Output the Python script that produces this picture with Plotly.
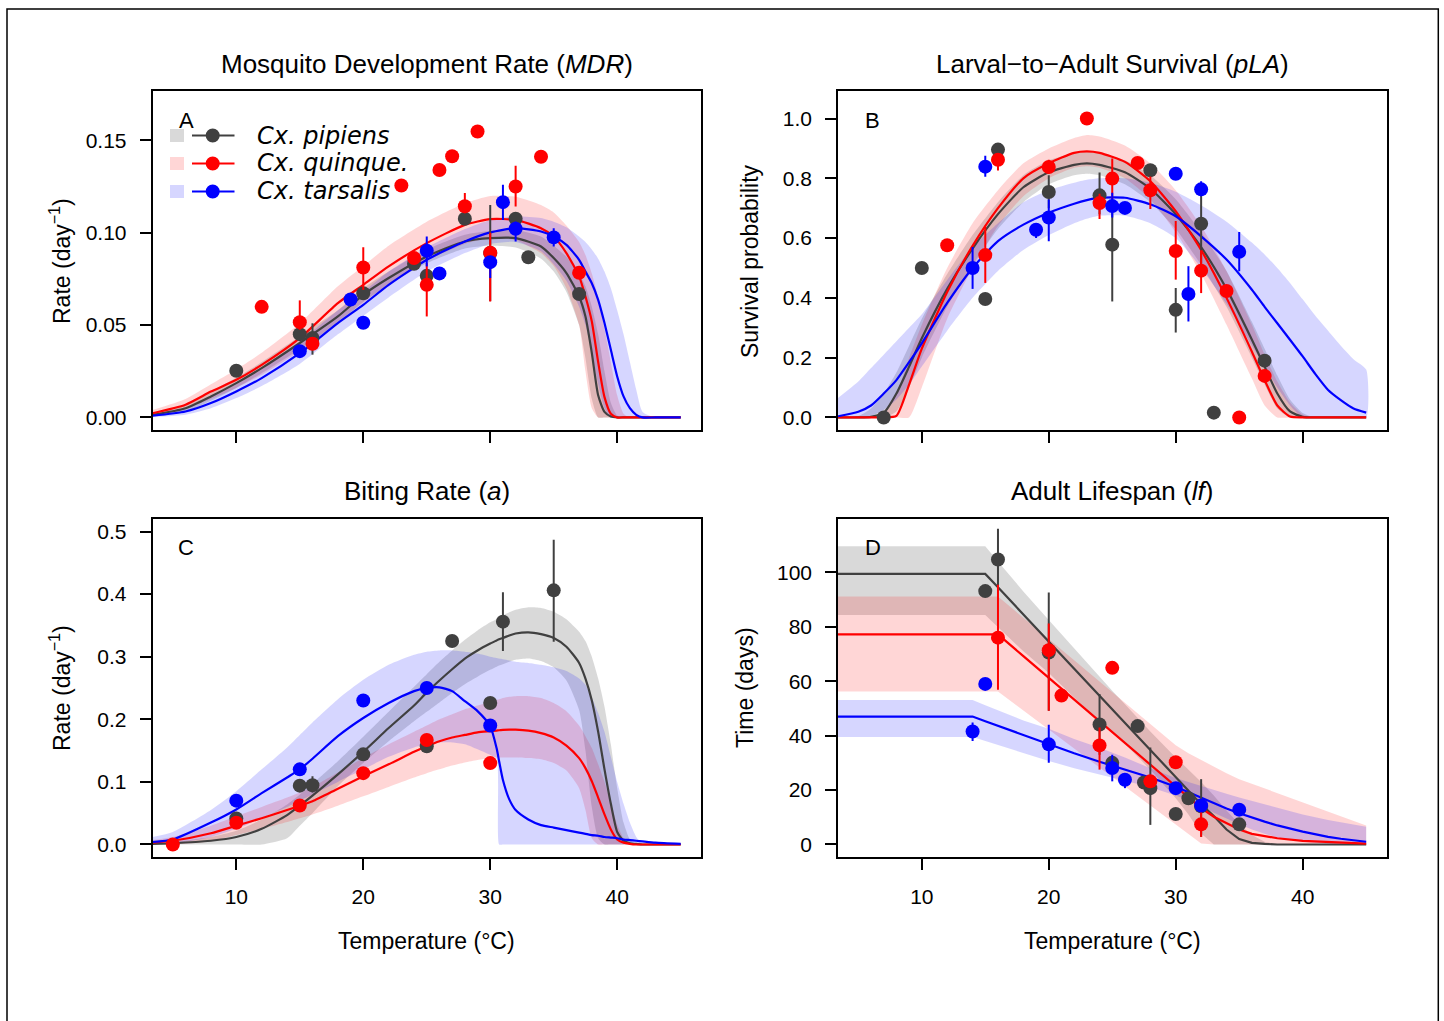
import plotly.graph_objects as go

W, H = 1444, 1021

# ---------------- Panel A: mosquito development rate (MDR) ----------------
A_T = [3.4, 6, 8, 10, 12, 15, 18, 20, 22, 25, 28, 30, 32, 34, 35, 36, 37, 37.5, 38, 38.5,
       39, 39.5, 40, 40.5, 41, 41.5, 42, 43, 45]
A_pip_mean = [0.0014, 0.005, 0.0114, 0.0186, 0.0267, 0.0403, 0.0547, 0.0664, 0.0755, 0.0872,
              0.0953, 0.0971, 0.0971, 0.0926, 0.0863, 0.0782, 0.0655, 0.0547, 0.035, 0.012,
              0.003, 0.0005, 0, 0, 0, 0, 0, 0, 0]
A_pip_lo = [0.0005, 0.003, 0.009, 0.016, 0.024, 0.037, 0.051, 0.0625, 0.072, 0.0835,
            0.0915, 0.093, 0.092, 0.086, 0.079, 0.068, 0.05, 0.032, 0.01, 0,
            0, 0, 0, 0, 0, 0, 0, 0, 0]
A_pip_hi = [0.0025, 0.007, 0.014, 0.0215, 0.03, 0.044, 0.058, 0.07, 0.079, 0.091,
            0.099, 0.101, 0.1015, 0.098, 0.093, 0.087, 0.078, 0.071, 0.06, 0.045,
            0.025, 0.008, 0.001, 0, 0, 0, 0, 0, 0]
A_qui_mean = [0.0023, 0.0069, 0.014, 0.0204, 0.0285, 0.043, 0.0619, 0.0718, 0.0818, 0.0944,
              0.1043, 0.1074, 0.107, 0.1025, 0.098, 0.089, 0.0764, 0.0655, 0.052, 0.03,
              0.011, 0.002, 0, 0, 0, 0, 0, 0, 0]
A_qui_lo = [0.001, 0.0045, 0.01, 0.016, 0.023, 0.036, 0.052, 0.062, 0.072, 0.085,
            0.094, 0.097, 0.096, 0.089, 0.082, 0.07, 0.05, 0.025, 0.005, 0,
            0, 0, 0, 0, 0, 0, 0, 0, 0]
A_qui_hi = [0.004, 0.01, 0.018, 0.026, 0.035, 0.051, 0.071, 0.082, 0.093, 0.106,
            0.116, 0.12, 0.1195, 0.115, 0.111, 0.104, 0.095, 0.088, 0.078, 0.065,
            0.048, 0.03, 0.012, 0.002, 0, 0, 0, 0, 0]
A_tar_mean = [0.0009, 0.0032, 0.0078, 0.0141, 0.0213, 0.0348, 0.0511, 0.061, 0.0718, 0.0854,
              0.0953, 0.1002, 0.1025, 0.1007, 0.098, 0.0935, 0.0854, 0.079, 0.0727, 0.0637,
              0.0511, 0.0366, 0.0222, 0.0114, 0.005, 0.0014, 0, 0, 0]
A_tar_lo = [0.0002, 0.0015, 0.005, 0.0105, 0.017, 0.029, 0.045, 0.055, 0.065, 0.079,
            0.089, 0.094, 0.095, 0.09, 0.083, 0.074, 0.06, 0.05, 0.035, 0.018,
            0.005, 0, 0, 0, 0, 0, 0, 0, 0]
A_tar_hi = [0.002, 0.005, 0.011, 0.018, 0.026, 0.041, 0.058, 0.068, 0.079, 0.092,
            0.102, 0.107, 0.109, 0.108, 0.106, 0.103, 0.098, 0.095, 0.091, 0.086,
            0.079, 0.07, 0.058, 0.045, 0.03, 0.015, 0.003, 0, 0]

A_pip_x = [10, 15, 16, 20, 24, 25, 28, 30, 32, 33, 37]
A_pip_y = [0.0253, 0.0451, 0.043, 0.0673, 0.0832, 0.0767, 0.1076, 0.089, 0.1076, 0.0868, 0.0668]
A_pip_elo = [None, None, 0.034, None, None, None, None, 0.063, None, None, None]
A_pip_ehi = [None, None, 0.051, None, None, None, None, 0.115, None, None, None]
A_qui_x = [12, 15, 16, 20, 23, 24, 25, 26, 27, 28, 29, 30, 32, 34, 37]
A_qui_y = [0.0599, 0.0516, 0.0399, 0.0812, 0.1256, 0.0863, 0.0718, 0.134, 0.1415, 0.1144,
           0.1549, 0.0892, 0.1251, 0.1412, 0.0783]
A_qui_elo = [None, 0.0475, None, 0.0691, None, None, 0.0547, None, None, 0.1106,
             None, 0.0628, 0.1143, None, None]
A_qui_ehi = [None, 0.0634, None, 0.0922, None, None, 0.0836, None, None, 0.1215,
             None, 0.1, 0.1363, None, None]
A_tar_x = [15, 19, 20, 25, 26, 30, 31, 32, 35]
A_tar_y = [0.0359, 0.0639, 0.0513, 0.0903, 0.078, 0.0841, 0.1166, 0.1022, 0.0975]
A_tar_elo = [None, None, None, 0.0818, None, 0.0755, 0.107, 0.0953, 0.0926]
A_tar_ehi = [None, None, None, 0.098, None, 0.0872, 0.126, 0.1061, 0.1025]

# ---------------- Panel B: larval-to-adult survival (pLA) ----------------
B_T = [3.4, 5, 6, 7, 8, 9, 10, 12, 14, 16, 18, 20, 22, 23, 24, 26, 28, 30, 32, 34,
       36, 37, 38, 39, 40, 41, 42, 43, 44, 45]
B_pip_mean = [0, 0, 0.002, 0.015, 0.08, 0.17, 0.265, 0.43, 0.565, 0.68, 0.77, 0.82, 0.845, 0.85,
              0.845, 0.82, 0.765, 0.68, 0.57, 0.43, 0.26, 0.17, 0.08, 0.02, 0.002, 0, 0, 0, 0, 0]
B_pip_lo = [0, 0, 0, 0, 0.02, 0.1, 0.2, 0.37, 0.51, 0.63, 0.72, 0.78, 0.81, 0.815,
            0.81, 0.78, 0.72, 0.63, 0.51, 0.37, 0.2, 0.11, 0.03, 0, 0, 0, 0, 0, 0, 0]
B_pip_hi = [0, 0.005, 0.03, 0.08, 0.15, 0.24, 0.33, 0.48, 0.61, 0.72, 0.81, 0.86, 0.885, 0.89,
            0.885, 0.86, 0.81, 0.73, 0.62, 0.49, 0.32, 0.23, 0.14, 0.06, 0.015, 0, 0, 0, 0, 0]
B_qui_mean = [0, 0, 0, 0, 0.005, 0.11, 0.23, 0.42, 0.574, 0.7, 0.8, 0.85, 0.885, 0.89,
              0.885, 0.855, 0.79, 0.69, 0.56, 0.4, 0.22, 0.125, 0.04, 0.003, 0, 0, 0, 0, 0, 0]
B_qui_lo = [0, 0, 0, 0, 0, 0, 0.1, 0.33, 0.5, 0.64, 0.74, 0.8, 0.835, 0.84,
            0.835, 0.8, 0.73, 0.62, 0.48, 0.31, 0.13, 0.04, 0, 0, 0, 0, 0, 0, 0, 0]
B_qui_hi = [0, 0, 0, 0.02, 0.08, 0.2, 0.31, 0.5, 0.65, 0.76, 0.85, 0.9, 0.935, 0.945,
            0.94, 0.91, 0.85, 0.76, 0.64, 0.49, 0.31, 0.21, 0.12, 0.05, 0.01, 0, 0, 0, 0, 0]
B_tar_mean = [0.004, 0.019, 0.04, 0.08, 0.125, 0.185, 0.248, 0.383, 0.5, 0.59, 0.645, 0.685,
              0.715, 0.727, 0.735, 0.735, 0.713, 0.673, 0.606, 0.528, 0.427, 0.37, 0.315,
              0.26, 0.204, 0.145, 0.092, 0.058, 0.03, 0.016]
B_tar_lo = [0, 0, 0.005, 0.025, 0.06, 0.11, 0.17, 0.29, 0.4, 0.49, 0.56, 0.61, 0.65, 0.665,
            0.675, 0.675, 0.65, 0.6, 0.5, 0.38, 0.24, 0.17, 0.1, 0.04, 0, 0, 0, 0, 0, 0]
B_tar_hi = [0.065, 0.12, 0.165, 0.21, 0.255, 0.3, 0.345, 0.46, 0.57, 0.65, 0.72, 0.76, 0.785,
            0.795, 0.8, 0.8, 0.785, 0.755, 0.71, 0.655, 0.585, 0.545, 0.5, 0.45, 0.395,
            0.34, 0.29, 0.24, 0.195, 0.16]

B_pip_x = [7, 10, 15, 16, 20, 24, 25, 28, 30, 32, 33, 37]
B_pip_y = [0.0, 0.5, 0.396, 0.896, 0.754, 0.743, 0.578, 0.827, 0.36, 0.648, 0.016, 0.19]
B_pip_elo = [None, None, None, None, 0.70, 0.68, 0.388, None, 0.284, 0.49, None, None]
B_pip_ehi = [None, None, None, None, 0.81, 0.819, 0.70, None, 0.433, 0.78, None, None]
B_qui_x = [12, 15, 16, 20, 23, 24, 25, 27, 28, 30, 32, 34, 35, 37]
B_qui_y = [0.576, 0.543, 0.862, 0.838, 1.0, 0.717, 0.799, 0.851, 0.76, 0.557, 0.491, 0.423,
           0.0, 0.139]
B_qui_elo = [None, 0.45, 0.826, 0.817, None, 0.664, 0.729, None, 0.697, 0.461, 0.416, None,
             None, None]
B_qui_ehi = [None, 0.638, 0.882, 0.862, None, 0.748, 0.866, None, 0.806, 0.657, 0.559, None,
             None, None]
B_tar_x = [14, 15, 19, 20, 25, 26, 30, 31, 32, 35]
B_tar_y = [0.5, 0.839, 0.628, 0.669, 0.707, 0.701, 0.815, 0.413, 0.763, 0.554]
B_tar_elo = [0.43, 0.805, 0.6, 0.589, 0.669, None, None, 0.321, 0.74, 0.489]
B_tar_ehi = [0.57, 0.875, 0.65, 0.729, 0.752, None, None, 0.506, 0.79, 0.62]

# ---------------- Panel C: biting rate (a) ----------------
C_T = [3.4, 5, 8, 10, 12, 14, 15, 16, 18, 20, 22, 24, 25, 26, 27, 28, 29, 30, 30.5, 30.7,
       31, 31.5, 32, 33, 34, 35, 36, 37, 37.5, 38, 38.5, 39, 39.5, 40, 40.5, 41, 41.5, 42,
       43, 45]
C_pip_mean = [0.001, 0.002, 0.006, 0.012, 0.025, 0.047, 0.062, 0.078, 0.112, 0.148,
              0.186, 0.222, 0.243, 0.262, 0.28, 0.297, 0.31, 0.321, 0.326, 0.328,
              0.33, 0.334, 0.337, 0.339, 0.336, 0.33, 0.316, 0.29, 0.265, 0.23,
              0.18, 0.12, 0.065, 0.02, 0.006, 0.002, 0.001, 0, 0, 0]
C_pip_lo = [0, 0, 0, 0, 0, 0.01, 0.03, 0.05, 0.093, 0.13,
            0.165, 0.197, 0.212, 0.227, 0.242, 0.256, 0.268, 0.279, 0.284, 0.286,
            0.288, 0.292, 0.295, 0.297, 0.293, 0.283, 0.262, 0.215, 0.15, 0.06,
            0.01, 0, 0, 0, 0, 0, 0, 0, 0, 0]
C_pip_hi = [0.002, 0.004, 0.012, 0.022, 0.04, 0.064, 0.08, 0.097, 0.133, 0.172,
            0.212, 0.252, 0.272, 0.292, 0.31, 0.327, 0.342, 0.355, 0.36, 0.362,
            0.366, 0.371, 0.375, 0.379, 0.378, 0.372, 0.36, 0.34, 0.325, 0.3,
            0.265, 0.22, 0.16, 0.09, 0.035, 0.008, 0, 0, 0, 0]
C_qui_mean = [0.003, 0.006, 0.018, 0.03, 0.042, 0.055, 0.062, 0.069, 0.089, 0.109,
              0.128, 0.148, 0.157, 0.165, 0.171, 0.175, 0.179, 0.181, 0.182, 0.1825,
              0.183, 0.1835, 0.1835, 0.182, 0.178, 0.171, 0.158, 0.138, 0.122, 0.101,
              0.075, 0.048, 0.024, 0.008, 0.003, 0.001, 0, 0, 0, 0]
C_qui_lo = [0, 0, 0.005, 0.015, 0.025, 0.036, 0.042, 0.048, 0.062, 0.077,
            0.092, 0.107, 0.114, 0.12, 0.126, 0.131, 0.135, 0.138, 0.139, 0.139,
            0.139, 0.139, 0.139, 0.138, 0.136, 0.13, 0.118, 0.09, 0.055, 0.01,
            0, 0, 0, 0, 0, 0, 0, 0, 0, 0]
C_qui_hi = [0.007, 0.012, 0.03, 0.045, 0.06, 0.075, 0.083, 0.092, 0.115, 0.138,
            0.16, 0.18, 0.19, 0.2, 0.208, 0.216, 0.222, 0.228, 0.231, 0.232,
            0.234, 0.236, 0.237, 0.237, 0.234, 0.226, 0.213, 0.19, 0.173, 0.154,
            0.128, 0.1, 0.067, 0.032, 0.01, 0.002, 0, 0, 0, 0]
C_tar_mean = [0.004, 0.008, 0.035, 0.056, 0.082, 0.107, 0.12, 0.137, 0.173, 0.202,
              0.226, 0.245, 0.25, 0.251, 0.245, 0.229, 0.213, 0.189, 0.154, 0.133,
              0.103, 0.072, 0.055, 0.04, 0.031, 0.027, 0.023, 0.019, 0.017, 0.015,
              0.014, 0.012, 0.011, 0.01, 0.008, 0.007, 0.006, 0.005, 0.003, 0.001]
C_tar_lo = [0, 0.001, 0.012, 0.025, 0.042, 0.06, 0.07, 0.08, 0.1, 0.12,
            0.14, 0.155, 0.16, 0.163, 0.163, 0.16, 0.152, 0.143, 0.137, 0,
            0, 0, 0, 0, 0, 0, 0, 0, 0, 0,
            0, 0, 0, 0, 0, 0, 0, 0, 0, 0]
C_tar_hi = [0.012, 0.02, 0.055, 0.085, 0.12, 0.155, 0.175, 0.195, 0.232, 0.263,
            0.287, 0.303, 0.308, 0.31, 0.31, 0.308, 0.305, 0.3, 0.298, 0.297,
            0.296, 0.294, 0.292, 0.29, 0.287, 0.283, 0.277, 0.265, 0.255, 0.235,
            0.21, 0.18, 0.14, 0.1, 0.065, 0.035, 0.012, 0, 0, 0]

C_pip_x = [10, 15, 16, 20, 25, 27, 30, 31, 35]
C_pip_y = [0.0415, 0.094, 0.0947, 0.144, 0.157, 0.325, 0.226, 0.356, 0.406]
C_pip_elo = [None, None, 0.083, None, None, None, None, 0.309, 0.324]
C_pip_ehi = [None, None, 0.109, None, None, None, None, 0.403, 0.487]
C_qui_x = [5, 10, 15, 20, 25, 30]
C_qui_y = [0.0, 0.0346, 0.0622, 0.114, 0.167, 0.13]
C_qui_elo = [None] * 6
C_qui_ehi = [None] * 6
C_tar_x = [10, 15, 20, 25, 30]
C_tar_y = [0.07, 0.12, 0.23, 0.25, 0.19]
C_tar_elo = [None] * 5
C_tar_ehi = [None] * 5

# ---------------- Panel D: adult lifespan (lf) ----------------
D_T = [3.4, 5, 8, 10, 12, 13, 14, 15, 16, 18, 20, 22, 24, 25, 26, 28, 30, 31, 32, 33,
       34, 35, 36, 37, 38, 40, 42, 43, 45]
D_pip_mean = [99.4, 99.4, 99.4, 99.4, 99.4, 99.4, 99.4, 99.4, 94.5, 84.5,
              74.5, 64.5, 54.6, 49.6, 44.6, 34.7, 24.7, 19.7, 14.8, 10.5,
              5.5, 2, 0.6, 0.2, 0, 0, 0, 0, 0]
D_pip_lo = [84.3, 84.3, 84.3, 84.3, 84.3, 84.3, 84.3, 84.3, 80, 71,
            63, 54, 45, 41, 37, 27.5, 17, 11, 4, 0,
            0, 0, 0, 0, 0, 0, 0, 0, 0]
D_pip_hi = [109.6, 109.6, 109.6, 109.6, 109.6, 109.6, 109.6, 109.6, 104, 93,
            82.5, 72, 61.5, 56.5, 51.5, 41.5, 32, 27.5, 23, 18,
            12.5, 7.5, 3.5, 1, 0, 0, 0, 0, 0]
D_qui_mean = [77.2, 77.2, 77.2, 77.2, 77.2, 77.2, 77.2, 77.2, 77.2, 69.2,
              61.2, 53.2, 45.2, 41.2, 37.2, 29.2, 21.2, 17.2, 13.4, 10.2,
              7.8, 5.5, 3.9, 3, 2.3, 1.3, 0.8, 0.6, 0.3]
D_qui_lo = [56.2, 56.2, 56.2, 56.2, 56.2, 56.2, 56.2, 56.2, 56.2, 49.2,
            42.2, 35.3, 28.3, 24.8, 21.3, 14.3, 7.3, 3.8, 0.4, 0,
            0, 0, 0, 0, 0, 0, 0, 0, 0]
D_qui_hi = [91.1, 91.1, 91.1, 91.1, 91.1, 91.1, 91.1, 91.1, 91.1, 83.3,
            75.5, 67.7, 60, 56, 52.2, 44.3, 36.5, 33.5, 31, 28.5,
            26.2, 24, 22.3, 20.5, 19, 15.5, 12, 10.5, 7]
D_tar_mean = [47, 47, 47, 47, 47, 47, 47, 45.3, 43.6, 40.2,
              36.8, 33.5, 30.4, 29, 27.6, 24.6, 21.2, 19.2, 17, 15,
              13.2, 11.5, 9.9, 8.4, 7, 4.7, 2.8, 2.1, 1]
D_tar_lo = [39.5, 39.5, 39.5, 39.5, 39.5, 39.5, 39.5, 38, 36.6, 33.6,
            30.7, 28, 25.7, 24.5, 23.4, 21, 18, 16.2, 14, 11.7,
            9.5, 7.4, 5.5, 3.9, 2.6, 1, 0.3, 0.2, 0]
D_tar_hi = [53.1, 53.1, 53.1, 53.1, 53.1, 53.1, 53.1, 51.2, 49.3, 45.6,
            42.5, 38.8, 35.5, 33.7, 32, 28, 24.4, 23, 21.5, 20,
            18.6, 17.3, 16, 14.8, 13.5, 11, 9, 8.2, 6.5]

D_pip_x = [15, 16, 20, 24, 25, 27, 27.5, 28, 30, 31, 32, 35]
D_pip_y = [93.1, 104.7, 70.5, 44.1, 30, 43.5, 22.8, 20.7, 11.2, 17, 14, 7.4]
D_pip_elo = [None, 94.8, 49.1, 33, None, None, None, 7.2, None, None, 2.8, None]
D_pip_ehi = [None, 116, 92.6, 55.3, None, None, None, 35.6, None, None, 24, None]
D_qui_x = [16, 20, 21, 24, 25, 28, 30, 32]
D_qui_y = [76, 71.4, 54.7, 36.4, 64.9, 23.2, 30.2, 7.4]
D_qui_elo = [56.9, 49.1, None, 27.5, None, None, None, 2.8]
D_qui_ehi = [95.4, 81.2, None, 43, None, None, None, 12.1]
D_tar_x = [14, 15, 20, 25, 26, 30, 32, 35]
D_tar_y = [41.5, 59, 36.8, 28.1, 23.8, 20.7, 14.3, 12.8]
D_tar_elo = [38, None, 30, 23.2, 20.7, None, None, None]
D_tar_ehi = [44.8, None, 44, 33, 25.9, None, None, None]

# tick labels
X_TICKS = [10, 20, 30, 40]
A_TICKS = [0, 0.05, 0.10, 0.15]
A_TICKTEXT = ["0.00", "0.05", "0.10", "0.15"]
B_TICKS = [0, 0.2, 0.4, 0.6, 0.8, 1.0]
B_TICKTEXT = ["0.0", "0.2", "0.4", "0.6", "0.8", "1.0"]
C_TICKS = [0, 0.1, 0.2, 0.3, 0.4, 0.5]
C_TICKTEXT = ["0.0", "0.1", "0.2", "0.3", "0.4", "0.5"]
D_TICKS = [0, 20, 40, 60, 80, 100]
D_TICKTEXT = ["0", "20", "40", "60", "80", "100"]

SPECIES = ["Cx. pipiens", "Cx. quinque.", "Cx. tarsalis"]

# ---------------- styling ----------------
FONT = "Liberation Sans, Arial, Helvetica, sans-serif"
LINE_COL = ["#404040", "#ff0000", "#0000ff"]
BAND_COL = ["rgba(0,0,0,0.15)", "rgba(255,0,0,0.16)", "rgba(0,0,255,0.16)"]


def px(x):
    return x / W


def py(y):
    return 1 - y / H


# plot boxes in pixels: (left, right, top, bottom)
BOX = {
    "A": (152.5, 701, 91, 430),
    "B": (838, 1386.5, 91, 430),
    "C": (152.5, 701, 519, 857),
    "D": (838, 1386.5, 519, 857),
}

panels = [
    dict(key="A", xa="x", ya="y", T=A_T, shape="spline",
         bands=[(A_pip_lo, A_pip_hi), (A_qui_lo, A_qui_hi), (A_tar_lo, A_tar_hi)],
         means=[A_pip_mean, A_qui_mean, A_tar_mean],
         pts=[(A_pip_x, A_pip_y, A_pip_elo, A_pip_ehi), (A_qui_x, A_qui_y, A_qui_elo, A_qui_ehi),
              (A_tar_x, A_tar_y, A_tar_elo, A_tar_ehi)],
         yrange=[-0.0068, 0.1768], ticks=A_TICKS, ticktext=A_TICKTEXT, xlabels=False),
    dict(key="B", xa="x2", ya="y2", T=B_T, shape="spline",
         bands=[(B_pip_lo, B_pip_hi), (B_qui_lo, B_qui_hi), (B_tar_lo, B_tar_hi)],
         means=[B_pip_mean, B_qui_mean, B_tar_mean],
         pts=[(B_pip_x, B_pip_y, B_pip_elo, B_pip_ehi), (B_qui_x, B_qui_y, B_qui_elo, B_qui_ehi),
              (B_tar_x, B_tar_y, B_tar_elo, B_tar_ehi)],
         yrange=[-0.042, 1.092], ticks=B_TICKS, ticktext=B_TICKTEXT, xlabels=False),
    dict(key="C", xa="x3", ya="y3", T=C_T, shape="spline",
         bands=[(C_pip_lo, C_pip_hi), (C_qui_lo, C_qui_hi), (C_tar_lo, C_tar_hi)],
         means=[C_pip_mean, C_qui_mean, C_tar_mean],
         pts=[(C_pip_x, C_pip_y, C_pip_elo, C_pip_ehi), (C_qui_x, C_qui_y, C_qui_elo, C_qui_ehi),
              (C_tar_x, C_tar_y, C_tar_elo, C_tar_ehi)],
         yrange=[-0.02, 0.52], ticks=C_TICKS, ticktext=C_TICKTEXT, xlabels=True),
    dict(key="D", xa="x4", ya="y4", T=D_T, shape="linear",
         bands=[(D_pip_lo, D_pip_hi), (D_qui_lo, D_qui_hi), (D_tar_lo, D_tar_hi)],
         means=[D_pip_mean, D_qui_mean, D_tar_mean],
         pts=[(D_pip_x, D_pip_y, D_pip_elo, D_pip_ehi), (D_qui_x, D_qui_y, D_qui_elo, D_qui_ehi),
              (D_tar_x, D_tar_y, D_tar_elo, D_tar_ehi)],
         yrange=[-4.6, 119.6], ticks=D_TICKS, ticktext=D_TICKTEXT, xlabels=True),
]

fig = go.Figure()

for p in panels:
    T = p["T"]
    line_kw = dict(shape=p["shape"])
    if p["shape"] == "spline":
        line_kw["smoothing"] = 0.6
    # credible bands
    for (lo, hi), fc in zip(p["bands"], BAND_COL):
        fig.add_trace(go.Scatter(
            x=T + T[::-1], y=hi + lo[::-1], xaxis=p["xa"], yaxis=p["ya"],
            mode="lines", fill="toself", fillcolor=fc,
            line=dict(width=0, **line_kw), hoverinfo="skip"))
    # posterior mean curves
    for m, c in zip(p["means"], LINE_COL):
        fig.add_trace(go.Scatter(
            x=T, y=m, xaxis=p["xa"], yaxis=p["ya"], mode="lines",
            line=dict(color=c, width=2.2, **line_kw)))
    # observations with error bars
    for (xs, ys, elo, ehi), c in zip(p["pts"], LINE_COL):
        plus = [(h - v) if h is not None else 0 for v, h in zip(ys, ehi)]
        minus = [(v - l) if l is not None else 0 for v, l in zip(ys, elo)]
        fig.add_trace(go.Scatter(
            x=xs, y=ys, xaxis=p["xa"], yaxis=p["ya"], mode="markers",
            marker=dict(color=c, size=14, line=dict(width=0)),
            error_y=dict(type="data", symmetric=False, array=plus, arrayminus=minus,
                         color=c, thickness=2, width=0)))

axis_common = dict(showgrid=False, zeroline=False, showline=True, mirror=True,
                   linecolor="black", linewidth=1.5, ticks="outside", ticklen=11,
                   tickwidth=1.5, tickcolor="black",
                   tickfont=dict(family=FONT, size=21, color="black"))

layout_axes = {}
for i, p in enumerate(panels):
    l, r, t, b = BOX[p["key"]]
    sfx = "" if i == 0 else str(i + 1)
    layout_axes["xaxis" + sfx] = dict(
        axis_common, domain=[px(l), px(r)], range=[3.4, 46.6], tickvals=X_TICKS,
        showticklabels=p["xlabels"], ticklabelstandoff=9, anchor="y" + sfx)
    layout_axes["yaxis" + sfx] = dict(
        axis_common, domain=[py(b), py(t)], range=p["yrange"], tickvals=p["ticks"],
        ticktext=p["ticktext"], ticklabelstandoff=9, anchor="x" + sfx)

annotations = []


def text(x, y, s, size, angle=0, xanchor="center", family=FONT):
    annotations.append(dict(
        x=px(x), y=py(y), xref="paper", yref="paper", text=s, showarrow=False,
        xanchor=xanchor, yanchor="middle", textangle=angle,
        font=dict(family=family, size=size, color="black")))


# panel titles
text(426.75, 64, "Mosquito Development Rate (<i>MDR</i>)", 26)
text(1112, 64, "Larval−to−Adult Survival (<i>pLA</i>)", 26)
text(426.75, 491, "Biting Rate (<i>a</i>)", 26)
text(1112, 491, "Adult Lifespan (<i>lf</i>)", 26)
# axis titles
text(60, 261, "Rate (day<sup>−1</sup>)", 23, angle=-90)
text(60, 688, "Rate (day<sup>−1</sup>)", 23, angle=-90)
text(750, 261, "Survival probability", 23, angle=-90)
text(745, 688, "Time (days)", 23, angle=-90)
text(426.75, 941, "Temperature (°C)", 23)
text(1112, 941, "Temperature (°C)", 23)
# panel letters
text(186.5, 120.5, "A", 22)
text(873, 120.5, "B", 22)
text(186, 547.5, "C", 22)
text(873, 547.5, "D", 22)

shapes = []
# legend in panel A
LEG_ROWS = [135.5, 163.5, 191.5]
for yrow, lc, bc, name in zip(LEG_ROWS, LINE_COL, BAND_COL, SPECIES):
    shapes.append(dict(type="rect", xref="paper", yref="paper",
                       x0=px(170), x1=px(184), y0=py(yrow + 6.5), y1=py(yrow - 6.5),
                       fillcolor=bc, line=dict(width=0)))
    shapes.append(dict(type="line", xref="paper", yref="paper",
                       x0=px(192), x1=px(234.5), y0=py(yrow), y1=py(yrow),
                       line=dict(color=lc, width=2.2)))
    shapes.append(dict(type="circle", xref="paper", yref="paper",
                       x0=px(212.7 - 7), x1=px(212.7 + 7),
                       y0=py(yrow + 7), y1=py(yrow - 7),
                       fillcolor=lc, line=dict(width=0)))
    text(255, yrow, "<i>" + name + "</i>", 24, xanchor="left", family="DejaVu Sans, sans-serif")

# outer frame
shapes.append(dict(type="rect", xref="paper", yref="paper",
                   x0=px(7), x1=px(1438.3), y0=py(1040), y1=py(9),
                   line=dict(color="black", width=1.5), fillcolor="rgba(0,0,0,0)"))

fig.update_layout(
    width=W, height=H, autosize=False,
    margin=dict(l=0, r=0, t=0, b=0),
    paper_bgcolor="white", plot_bgcolor="white",
    showlegend=False,
    font=dict(family=FONT, color="black"),
    annotations=annotations, shapes=shapes,
    **layout_axes,
)

fig.write_html("out.html")
